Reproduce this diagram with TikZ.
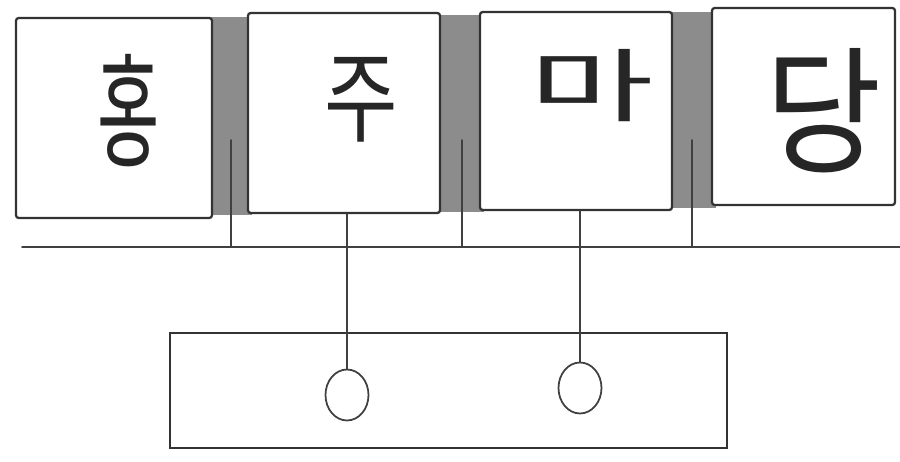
\documentclass[tikz,border=0pt]{standalone}
\usepackage{fontspec}
\newfontfamily\kor{Noto Sans CJK KR}
\usetikzlibrary{shapes.geometric}
\begin{document}
\begin{tikzpicture}[x=0.02cm, y=-0.02cm, line cap=round,
    panel/.style={draw=black!80, line width=1.3pt, fill=white, rounded corners=1.5pt, minimum height=4cm, inner sep=0pt},
    glyph/.style={font=\kor\fontsize{50}{50}\selectfont, inner sep=0pt, text=black!85},
    wire/.style={draw=black!75, line width=1pt},
    bulb/.style={ellipse, draw=black!75, line width=1pt, minimum width=0.86cm, minimum height=1.02cm, inner sep=0pt}]
  \useasboundingbox (0,0) rectangle (900,462);

  % 칸 사이 회색 띠
  \fill[black!45] (208,17) rectangle (252,215);
  \fill[black!45] (436,15) rectangle (484,212);
  \fill[black!45] (668,12) rectangle (716,208);

  % 글자 칸
  \node[panel, minimum width=3.92cm] (b1) at (114,118) {};
  \node[panel, minimum width=3.84cm] (b2) at (344,113) {};
  \node[panel, minimum width=3.84cm, minimum height=3.96cm] (b3) at (576,111) {};
  \node[panel, minimum width=3.66cm, minimum height=3.94cm] (b4) at (803.5,106.5) {};

  % 글자
  \node[glyph, xscale=0.77, yscale=1.40] (g1) at (129,111) {홍};
  \node[glyph, xscale=0.91, yscale=1.14] (g2) at (361,100) {주};
  \node[glyph, xscale=1.54, yscale=0.91] (g3) at (592,86) {마};
  \node[glyph, xscale=1.44, yscale=1.57] (g4) at (824,111) {당};

  % 가로선
  \coordinate (busL) at (22,247);
  \coordinate (busR) at (900,247);
  \draw[wire] (busL) -- (busR);

  % 회색 띠 안의 세로선
  \coordinate (s1) at (231,140);
  \coordinate (s2) at (462,140);
  \coordinate (s3) at (692,140);
  \foreach \s in {s1,s2,s3}
    \draw[wire] (\s) -- (\s |- busL);

  % 아래 상자
  \node[draw=black!80, line width=1.3pt, minimum width=11.14cm, minimum height=2.3cm, inner sep=0pt] (base) at (448.5,390.5) {};
  \node[bulb] (c1) at (347,395) {};
  \node[bulb] (c2) at (580,388) {};

  % 연결선
  \draw[wire] (c1.north) -- (c1.north |- b2.south);
  \draw[wire] (c2.north) -- (c2.north |- b3.south);
\end{tikzpicture}
\end{document}
